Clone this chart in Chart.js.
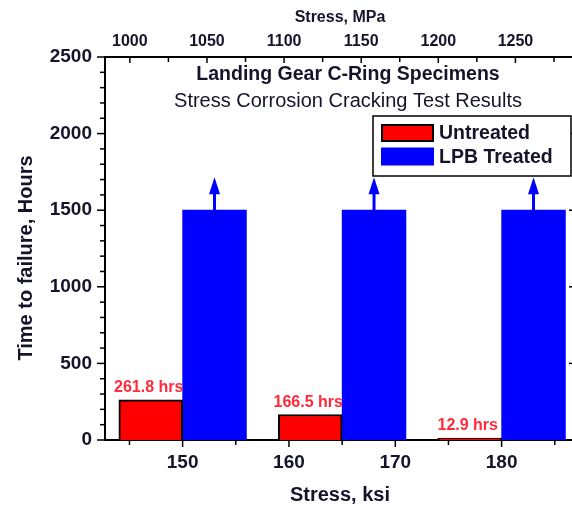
<!DOCTYPE html>
<html>
<head>
<meta charset="utf-8">
<script src="https://cdn.jsdelivr.net/npm/chart.js@4.4.1/dist/chart.umd.min.js"></script>
<style>
  html, body { margin: 0; padding: 0; background: #fff; overflow: hidden; }
  #wrap { position: relative; width: 580px; height: 507px; }
</style>
</head>
<body>
<div id="wrap"><canvas id="sccChart"></canvas></div>
<script>
// test stress levels (ksi) and time to failure (hours)
const stressKsi = [150, 165, 180];
const untreatedHours = [261.8, 166.5, 12.9];
const treatedHours = [1500, 1500, 1500];   // runouts, no failure
const untreatedLabels = ['261.8 hrs', '166.5 hrs', '12.9 hrs'];
const seriesNames = ['Untreated', 'LPB Treated'];

// axis ticks
const ksiTicks = [150, 160, 170, 180];
const mpaTicks = [1000, 1050, 1100, 1150, 1200, 1250];
const hourTicks = [0, 500, 1000, 1500, 2000, 2500];
const KSI_TO_MPA = 6.894757;
const xMin = 142.7, xMax = 186.9;

const FONT = '"Liberation Sans", Arial, sans-serif';
const INK = '#14142a';
const plain = v => String(v);

const decor = {
  id: 'decor',
  afterDatasetsDraw(chart) {
    const { ctx, chartArea: a, scales } = chart;
    const x = scales.x, y = scales.y, x2 = scales.x2;
    ctx.save();

    // arrows over the runout bars
    ctx.fillStyle = ctx.strokeStyle = '#0000ff';
    chart.getDatasetMeta(1).data.forEach(bar => {
      const cx = bar.x, top = bar.y;
      ctx.lineWidth = 3;
      ctx.beginPath(); ctx.moveTo(cx, top); ctx.lineTo(cx, top - 20); ctx.stroke();
      ctx.beginPath();
      ctx.moveTo(cx, top - 33);
      ctx.lineTo(cx - 5.5, top - 16);
      ctx.lineTo(cx + 5.5, top - 16);
      ctx.closePath(); ctx.fill();
    });

    // value labels on untreated bars
    ctx.font = 'bold 16px ' + FONT;
    ctx.fillStyle = '#ff2a3a';
    ctx.textAlign = 'center'; ctx.textBaseline = 'middle';
    chart.getDatasetMeta(0).data.forEach((bar, i) => {
      ctx.fillText(untreatedLabels[i], bar.x - 2, bar.y - 12);
    });

    // tick marks
    ctx.strokeStyle = '#000'; ctx.lineWidth = 1.5;
    const seg = (x1, y1, x2_, y2) => { ctx.beginPath(); ctx.moveTo(x1, y1); ctx.lineTo(x2_, y2); ctx.stroke(); };
    for (let v = 145; v <= xMax; v += 5) {
      const px = x.getPixelForValue(v);
      seg(px, a.bottom, px, a.bottom + (v % 10 === 0 ? 7 : 5));
    }
    for (let v = 0; v <= 2500; v += 100) {
      const py = y.getPixelForValue(v);
      const major = v % 500 === 0;
      seg(a.left - (major ? 8 : 5), py, a.left, py);
      seg(a.right, py, a.right - (major ? 6 : 3), py);
    }
    for (let v = 1000; v <= x2.max; v += 25) {
      const px = x2.getPixelForValue(v);
      seg(px, a.top, px, a.top + (v % 50 === 0 ? 6 : 5));
    }

    // plot title
    const cx = (a.left + a.right) / 2 + 8;
    ctx.fillStyle = INK;
    ctx.font = 'bold 19.5px ' + FONT;
    ctx.fillText('Landing Gear C-Ring Specimens', cx, a.top + 18);
    ctx.font = '20px ' + FONT;
    ctx.fillText('Stress Corrosion Cracking Test Results', cx, a.top + 44);

    // legend box
    const lx = a.right - 202, ly = a.top + 59, lw = 198, lh = 60;
    ctx.fillStyle = '#fff';
    ctx.fillRect(lx, ly, lw, lh);
    ctx.strokeStyle = '#000'; ctx.lineWidth = 1.5;
    ctx.strokeRect(lx, ly, lw, lh);
    chart.data.datasets.forEach((ds, i) => {
      const sy = ly + 8 + i * 23.5;
      ctx.fillStyle = ds.backgroundColor;
      ctx.fillRect(lx + 8, sy, 53, 18);
      if (ds.borderWidth) { ctx.lineWidth = 2; ctx.strokeRect(lx + 9, sy + 1, 51, 16); }
      ctx.fillStyle = INK;
      ctx.font = 'bold 19.5px ' + FONT;
      ctx.textAlign = 'left';
      ctx.fillText(ds.label, lx + 66, sy + 10);
    });

    // left axis title
    ctx.translate(26, 258);
    ctx.rotate(-Math.PI / 2);
    ctx.textAlign = 'center';
    ctx.font = 'bold 20px ' + FONT;
    ctx.fillText('Time to failure, Hours', 0, 0);
    ctx.restore();
  }
};

const ctx = document.getElementById('sccChart').getContext('2d');
const sccChart = new Chart(ctx, {
  type: 'bar',
  data: {
    datasets: [{
      label: seriesNames[0],
      data: stressKsi.map((s, i) => ({ x: s - 3, y: untreatedHours[i] })),
      backgroundColor: '#ff0000',
      borderColor: '#000',
      borderWidth: 2
    }, {
      label: seriesNames[1],
      data: stressKsi.map((s, i) => ({ x: s + 3, y: treatedHours[i] })),
      backgroundColor: '#0000ff',
      borderWidth: 0
    }]
  },
  options: {
    responsive: true,
    maintainAspectRatio: false,
    animation: false,
    grouped: false,
    barPercentage: 1,
    categoryPercentage: 1,
    layout: { padding: 0 },
    plugins: { legend: { display: false }, tooltip: { enabled: false } },
    scales: {
      x: {
        type: 'linear', position: 'bottom', min: xMin, max: xMax, offset: false,
        afterBuildTicks: s => { s.ticks = ksiTicks.map(v => ({ value: v })); },
        afterFit: s => { s.height = 67; },
        grid: { display: false, drawTicks: false },
        border: { color: '#000', width: 2 },
        ticks: { padding: 11, color: INK, callback: plain, font: { family: FONT, size: 19, weight: 'bold' } },
        title: { display: true, text: 'Stress, ksi', color: INK, padding: { top: 0, bottom: 0 },
                 font: { family: FONT, size: 20, weight: 'bold' } }
      },
      x2: {
        type: 'linear', position: 'top', min: xMin * KSI_TO_MPA, max: xMax * KSI_TO_MPA, offset: false,
        afterBuildTicks: s => { s.ticks = mpaTicks.map(v => ({ value: v })); },
        afterFit: s => { s.height = 57; },
        grid: { display: false, drawTicks: false },
        border: { color: '#000', width: 2 },
        ticks: { padding: 6, color: INK, callback: plain, font: { family: FONT, size: 16, weight: 'bold' } },
        title: { display: true, text: 'Stress, MPa', color: INK, padding: { top: 8, bottom: 0 },
                 font: { family: FONT, size: 16, weight: 'bold' } }
      },
      y: {
        min: 0, max: 2500,
        afterBuildTicks: s => { s.ticks = hourTicks.map(v => ({ value: v })); },
        afterFit: s => { s.width = 105; },
        grid: { display: false, drawTicks: false },
        border: { color: '#000', width: 2 },
        ticks: { padding: 13, color: INK, callback: plain, font: { family: FONT, size: 19, weight: 'bold' } }
      },
      y2: {
        position: 'right', min: 0, max: 2500,
        afterFit: s => { s.width = 5; },
        grid: { display: false, drawTicks: false },
        border: { color: '#000', width: 2 },
        ticks: { display: false }
      }
    }
  },
  plugins: [decor]
});
</script>
</body>
</html>
